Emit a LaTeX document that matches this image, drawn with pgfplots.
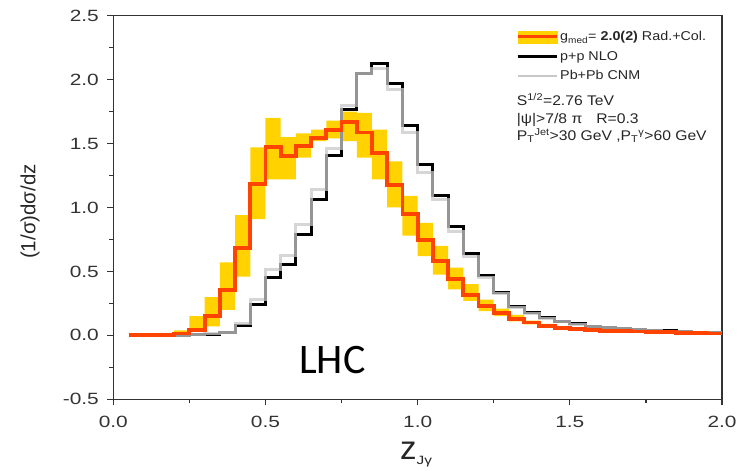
\documentclass[border=0pt]{standalone}
\usepackage{fontspec}
\setmainfont{Liberation Sans}
\newfontfamily\lhcfont{Carlito}
\newfontfamily\tickfont{Liberation Sans}[FakeStretch=1.28]
\newfontfamily\legfont{Liberation Sans}[FakeStretch=1.12]
\usepackage{pgfplots}
\usepackage{pgfplotstable}
\pgfplotsset{compat=1.18}
\usepgfplotslibrary{fillbetween}

\definecolor{bandyellow}{HTML}{FFD200}
\definecolor{redline}{HTML}{FF4300}
\definecolor{lgray}{HTML}{C8C8C8}
\definecolor{axisgray}{HTML}{333333}

\pgfplotstableread{
z y
0.05 0
0.10 0
0.15 0
0.20 0.015
0.25 0.045
0.30 0.154
0.35 0.352
0.40 0.683
0.45 1.186
0.50 1.473
0.55 1.40
0.60 1.48
0.65 1.545
0.70 1.605
0.75 1.666
0.80 1.587
0.85 1.426
0.90 1.178
0.95 0.95
1.00 0.748
1.05 0.579
1.10 0.441
1.15 0.318
1.20 0.227
1.25 0.175
1.30 0.128
1.35 0.10
1.40 0.076
1.45 0.058
1.50 0.047
1.55 0.040
1.60 0.036
1.65 0.033
1.70 0.030
1.75 0.027
1.80 0.024
1.85 0.021
1.90 0.018
1.95 0.015
2.00 0.015
}\redtab

\pgfplotstableread{
z lo hi
0.20 0.00 0.04
0.25 0.03 0.15
0.30 0.07 0.30
0.35 0.20 0.57
0.40 0.46 0.94
0.45 0.91 1.47
0.50 1.22 1.70
0.55 1.22 1.55
0.60 1.39 1.58
0.65 1.52 1.61
0.70 1.54 1.68
0.75 1.52 1.75
0.80 1.39 1.74
0.85 1.22 1.61
0.90 1.00 1.36
0.95 0.78 1.09
1.00 0.62 0.88
1.05 0.475 0.70
1.10 0.36 0.53
1.15 0.27 0.40
1.20 0.19 0.28
1.25 0.15 0.21
1.30 0.11 0.16
1.35 0.085 0.115
1.40 0.07 0.09
1.45 0.05 0.065
1.50 0.05 0.065
}\bandtab

\pgfplotstableread{
z y
0.05 0
0.10 0
0.15 0
0.20 0
0.25 0.005
0.30 0.010
0.35 0.020
0.40 0.075
0.45 0.240
0.50 0.455
0.55 0.555
0.60 0.785
0.65 1.061
0.70 1.405
0.75 1.765
0.80 2.05
0.85 2.13
0.90 1.97
0.95 1.64
1.00 1.335
1.05 1.092
1.10 0.852
1.15 0.644
1.20 0.467
1.25 0.336
1.30 0.227
1.35 0.175
1.40 0.136
1.45 0.107
1.50 0.089
1.55 0.072
1.60 0.060
1.65 0.052
1.70 0.046
1.75 0.040
1.80 0.035
1.85 0.030
1.90 0.026
1.95 0.022
2.00 0.022
}\pptab

\pgfplotstableread{
z y
0.05 0
0.10 0
0.15 0
0.20 0
0.25 0.005
0.30 0.012
0.35 0.025
0.40 0.095
0.45 0.282
0.50 0.514
0.55 0.625
0.60 0.866
0.65 1.14
0.70 1.465
0.75 1.80
0.80 2.05
0.85 2.09
0.90 1.92
0.95 1.59
1.00 1.27
1.05 1.061
1.10 0.813
1.15 0.620
1.20 0.450
1.25 0.330
1.30 0.220
1.35 0.172
1.40 0.134
1.45 0.105
1.50 0.087
1.55 0.071
1.60 0.059
1.65 0.051
1.70 0.045
1.75 0.039
1.80 0.034
1.85 0.029
1.90 0.025
1.95 0.021
2.00 0.021
}\cnmtab

\begin{document}
\begin{tikzpicture}
\begin{axis}[
  name=ax,
  scale only axis,
  width=608.7bp, height=383.6bp,
  xmin=0, xmax=2, ymin=-0.5, ymax=2.5,
  xtick={0,0.5,1,1.5,2},
  ytick={-0.5,0,0.5,1,1.5,2,2.5},
  minor x tick num=1, minor y tick num=1,
  tick align=outside, xtick pos=left, ytick pos=left,
  major tick length=6bp, minor tick length=4bp,
  axis line style={line width=1.2bp, color=axisgray},
  every tick/.style={line width=1.2bp, color=axisgray},
  /pgf/number format/assume math mode=true,
  /pgf/number format/fixed,
  /pgf/number format/fixed zerofill,
  /pgf/number format/precision=1,
  tick label style={font=\tickfont\fontsize{16.3bp}{20bp}\selectfont, color=black!80},
  yticklabel style={xshift=-5bp},
  xticklabel style={yshift=-7bp},
  xlabel={z\raisebox{-5bp}{\tickfont\fontsize{12bp}{14bp}\selectfont Jγ}},
  xlabel style={font=\fontsize{33bp}{36bp}\selectfont, color=black!85,
    at={(rel axis cs:0.471,-0.1582)}, anchor=base west, inner sep=0pt},
  ylabel={(1/σ)dσ/dz},
  ylabel style={font=\fontsize{20.5bp}{24bp}\selectfont, color=black!85,
    at={(rel axis cs:-0.1369,0.4896)}, anchor=center},
  legend style={at={(0.6616,0.9645)}, anchor=north west, draw=none, fill=none,
    inner sep=0pt, font=\legfont\fontsize{12.8bp}{15bp}\selectfont, text=black!85,
    row sep=5bp},
  legend cell align=left,
]
\addplot[name path=lo, draw=none, const plot mark left, forget plot] table[x=z, y=lo] {\bandtab};
\addplot[name path=hi, draw=none, const plot mark left, forget plot] table[x=z, y=hi] {\bandtab};
\addplot[bandyellow, forget plot] fill between[of=hi and lo];

\addplot[black, line width=3bp, const plot mark left, mark=none, forget plot]
  table[x=z, y=y] {\pptab};
\addplot[lgray, opacity=0.75, line width=3bp, const plot mark left, mark=none, forget plot]
  table[x=z, y=y] {\cnmtab};
\addplot[redline, line width=3.8bp, const plot mark left, mark=none, forget plot]
  table[x=z, y=y] {\redtab};

\addlegendimage{legend image code/.code={
    \fill[bandyellow] (0bp,-6bp) rectangle (39bp,6bp);
    \draw[redline, line width=3bp] (0bp,0bp) -- (39bp,0bp);}}
\addlegendentry{g\textsubscript{med}= \textbf{2.0(2)} Rad.+Col.}
\addlegendimage{legend image code/.code={\draw[black, line width=3bp] (0bp,0bp) -- (39bp,0bp);}}
\addlegendentry{p+p NLO}
\addlegendimage{legend image code/.code={\draw[lgray, line width=2.5bp] (0bp,0bp) -- (39bp,0bp);}}
\addlegendentry{Pb+Pb CNM}

\node[anchor=north west, align=left, inner sep=0pt, text=black!85,
  font=\legfont\fontsize{14bp}{17.5bp}\selectfont] at (rel axis cs:0.6627,0.7985)
  {S\textsuperscript{1/2}=2.76 TeV\\
   |ψ|>7/8 π\quad R=0.3\\
   P\textsubscript{T}\textsuperscript{Jet}>30 GeV ,P\textsubscript{T}\textsuperscript{γ}>60 GeV};

\node[font=\lhcfont\fontsize{42bp}{44bp}\selectfont, text=black] at (axis cs:0.720,-0.19) {LHC};
\end{axis}
\pgfresetboundingbox
\path[use as bounding box] ([xshift=-113.3bp,yshift=-71.7bp]ax.south west)
  rectangle ([xshift=15bp,yshift=15.7bp]ax.north east);
\end{tikzpicture}
\end{document}
